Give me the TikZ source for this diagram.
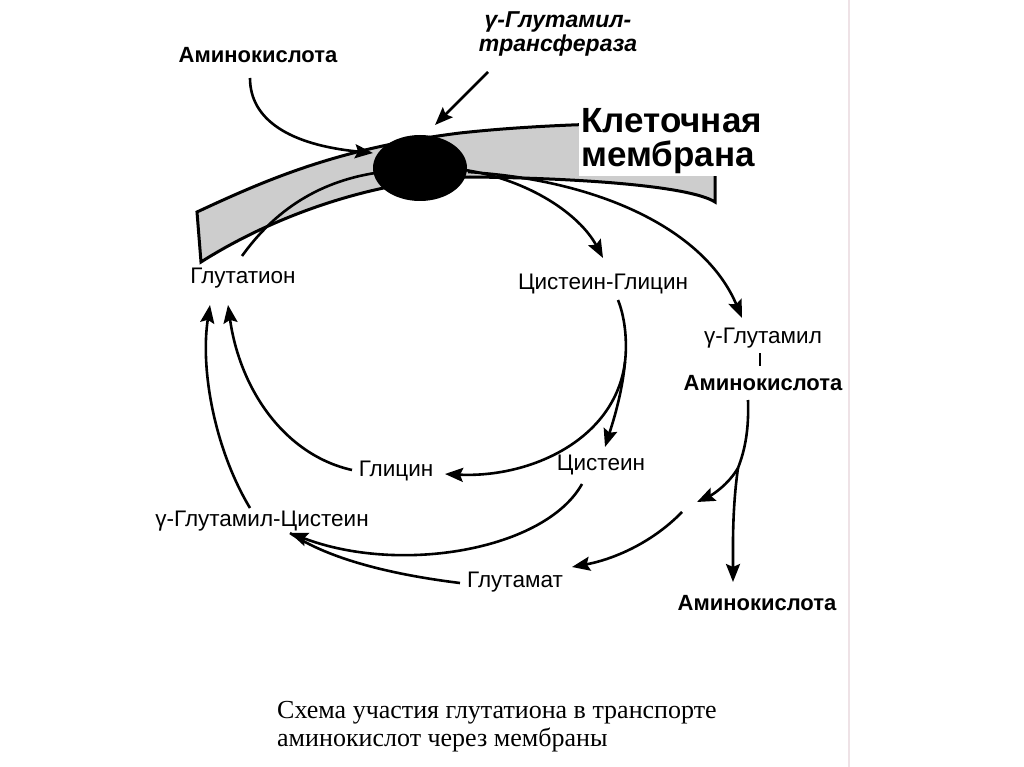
\documentclass[tikz,border=0pt]{standalone}
\usepackage{fontspec}
\setmainfont{Liberation Sans}
\newfontfamily\capfont{Liberation Serif}
\usetikzlibrary{arrows.meta,shapes.geometric}
\definecolor{memgrey}{RGB}{205,205,205}
\definecolor{edgeline}{RGB}{238,226,230}
\tikzset{
  lbl/.style={inner sep=1pt, font=\fontsize{22.5}{24}\selectfont},
  blbl/.style={inner sep=1pt, font=\fontsize{22}{24}\selectfont\bfseries},
  conn/.style={line width=2.6pt},
  arr/.style={conn, -{Stealth[length=18pt,width=14pt,inset=3pt]}},
}
\begin{document}
\begin{tikzpicture}[x=1pt,y=-1pt]
\useasboundingbox (0,0) rectangle (1024,767);
\fill[white] (0,0) rectangle (1024,767);
\draw[edgeline, line width=1.5pt] (849,0) -- (849,767);

% membrane
\draw[line width=3pt, fill=memgrey, line join=miter]
  (197,212) .. controls (270,178) and (340,148) .. (460,133)
  .. controls (560,122) and (680,122) .. (715,125)
  -- (715,202)
  .. controls (690,186) and (580,178) .. (470,177)
  .. controls (380,180) and (280,212) .. (201,262) -- cycle;

\node[fill=white, inner sep=2pt, align=left, anchor=north west,
      font=\fontsize{35}{34}\selectfont\bfseries] (memb) at (579,106) {Клеточная\\мембрана};

\node[fill=black, ellipse, minimum width=94pt, minimum height=66pt, inner sep=0pt] (enzb) at (420,168) {};

% labels
\node[blbl] (amA) at (258,55) {Аминокислота};
\node[inner sep=1pt, align=center, font=\fontsize{23}{24}\selectfont\bfseries\itshape] (gtt) at (558,34) {γ-Глутамил-\\трансфераза};
\node[lbl] (gsh) at (243,278) {Глутатион};
\node[lbl] (cysgly) at (603,284) {Цистеин-Глицин};
\node[lbl] (gglu) at (763,338) {γ-Глутамил};
\node[blbl] (amB) at (763,383) {Аминокислота};
\node[lbl] (gly) at (396,471) {Глицин};
\node[lbl] (cys) at (601,465) {Цистеин};
\node[lbl] (ggc) at (262,521) {γ-Глутамил-Цистеин};
\node[lbl] (glu) at (515,582) {Глутамат};
\node[blbl] (amC) at (757,603) {Аминокислота};
\draw[line width=2pt] (760,353) -- (760,366);

\node[anchor=north west, align=left, inner sep=0pt,
      font=\capfont\fontsize{26}{28}\selectfont] (cap) at (277,701)
  {Схема участия глутатиона в транспорте\\аминокислот через мембраны};

% connectors
\coordinate (enzL) at (373,153);
\coordinate (enzT) at (435,125);
\draw[arr] (250,78) .. controls (250,120) and (290,145) .. (enzL);
\draw[arr] (488,72) -- (enzT);
\draw[conn] (242,256) .. controls (275,210) and (320,180) .. (382,172);
\draw[arr] (465,170) .. controls (530,180) and (580,215) .. (603,258);
\draw[arr] (468,172) .. controls (600,180) and (705,230) .. (742,318);

\coordinate (cgbr) at (625,362);
\draw[conn] (618,300) .. controls (626,320) and (627,345) .. (cgbr);
\draw[arr] (cgbr) .. controls (622,395) and (612,425) .. (605,447);
\draw[arr] (cgbr) .. controls (615,440) and (530,478) .. (445,474);
\draw[arr] (352,470) .. controls (285,455) and (240,390) .. (228,305);
\draw[arr] (250,508) .. controls (215,450) and (200,370) .. (210,305);
\coordinate (ggcR) at (290,533);
\draw[arr] (582,484) .. controls (545,550) and (400,575) .. (ggcR);
\draw[conn] (460,583) .. controls (395,575) and (330,560) .. (ggcR);

\coordinate (aabr) at (738,468);
\draw[conn] (748,400) .. controls (749,430) and (745,450) .. (aabr);
\draw[arr] (aabr) .. controls (732,510) and (733,550) .. (733,582);
\draw[arr] (aabr) .. controls (728,485) and (712,495) .. (697,502);
\draw[arr] (682,512) .. controls (650,545) and (610,560) .. (572,567);
\end{tikzpicture}
\end{document}
